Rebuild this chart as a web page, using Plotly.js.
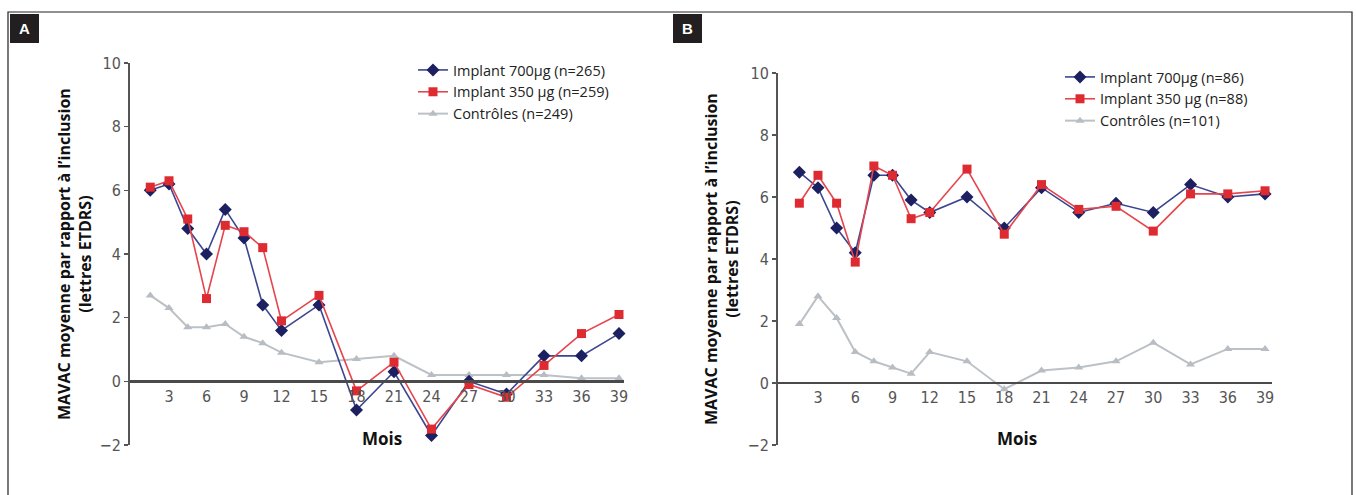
<!DOCTYPE html>
<html>
<head>
<meta charset="utf-8">
<script src="https://cdn.plot.ly/plotly-3.0.1.min.js"></script>
<style>html,body{margin:0;padding:0;background:#fff;}#chart{width:1356px;height:495px;}</style>
</head>
<body>
<div id="chart"></div>
<script>
// Months of follow-up
const months = [1.5, 3, 4.5, 6, 7.5, 9, 10.5, 12, 15, 18, 21, 24, 27, 30, 33, 36, 39];
const xTicks = [3, 6, 9, 12, 15, 18, 21, 24, 27, 30, 33, 36, 39];

// Panel A
const a700 = [6.0, 6.2, 4.8, 4.0, 5.4, 4.5, 2.4, 1.6, 2.4, -0.9, 0.3, -1.7, 0.0, -0.4, 0.8, 0.8, 1.5];
const a350 = [6.1, 6.3, 5.1, 2.6, 4.9, 4.7, 4.2, 1.9, 2.7, -0.3, 0.6, -1.5, -0.1, -0.5, 0.5, 1.5, 2.1];
const aCtrl = [2.7, 2.3, 1.7, 1.7, 1.8, 1.4, 1.2, 0.9, 0.6, 0.7, 0.8, 0.2, 0.2, 0.2, 0.2, 0.1, 0.1];
const aNames = ["Implant 700µg (n=265)", "Implant 350 µg (n=259)", "Contrôles (n=249)"];

// Panel B
const b700 = [6.8, 6.3, 5.0, 4.2, 6.7, 6.7, 5.9, 5.5, 6.0, 5.0, 6.3, 5.5, 5.8, 5.5, 6.4, 6.0, 6.1];
const b350 = [5.8, 6.7, 5.8, 3.9, 7.0, 6.7, 5.3, 5.5, 6.9, 4.8, 6.4, 5.6, 5.7, 4.9, 6.1, 6.1, 6.2];
const bCtrl = [1.9, 2.8, 2.1, 1.0, 0.7, 0.5, 0.3, 1.0, 0.7, -0.2, 0.4, 0.5, 0.7, 1.3, 0.6, 1.1, 1.1];
const bNames = ["Implant 700µg (n=86)", "Implant 350 µg (n=88)", "Contrôles (n=101)"];

const panelLabels = ["A", "B"];
const yTitle = "MAVAC moyenne par rapport à l’inclusion<br>(lettres ETDRS)";
const xTitle = "Mois";

const W = 1356, H = 495;
const px = v => v / W;
const py = v => 1 - v / H;

const styles = [
  {line: {color: '#3b4690', width: 1.6}, marker: {symbol: 'diamond', size: 10, color: '#1d2060'}},
  {line: {color: '#e5454c', width: 1.6}, marker: {symbol: 'square', size: 9, color: '#de2a31'}},
  {line: {color: '#bcc1c6', width: 2}, marker: {symbol: 'triangle-up', size: 8, color: '#b8bdc3'}}
];

function mk(y, name, i, xa, ya, leg) {
  return Object.assign({
    x: months, y: y, name: name, type: 'scatter', mode: 'lines+markers',
    xaxis: xa, yaxis: ya, legend: leg, cliponaxis: false, legendrank: i
  }, JSON.parse(JSON.stringify(styles[i])));
}

// Controls drawn first so the implant series overlay them; legend order kept by legendrank
const traces = [
  mk(aCtrl, aNames[2], 2, 'x', 'y', 'legend'),
  mk(a700, aNames[0], 0, 'x', 'y', 'legend'),
  mk(a350, aNames[1], 1, 'x', 'y', 'legend'),
  mk(bCtrl, bNames[2], 2, 'x2', 'y2', 'legend2'),
  mk(b700, bNames[0], 0, 'x2', 'y2', 'legend2'),
  mk(b350, bNames[1], 1, 'x2', 'y2', 'legend2')
];

const tickFont = {family: 'Liberation Sans Narrow, DejaVu Sans Condensed, Arial Narrow, sans-serif', size: 16, color: '#555'};

// Panel geometry
const aDom = [px(130), px(624)], aYDom = [py(445), py(63)];
const bDom = [px(778), px(1272)], bYDom = [py(445), py(73)];
const zeroPos = d => d[0] + (2 / 12) * (d[1] - d[0]);

function xax(dom, range, yd) {
  return {
    domain: dom, range: range, anchor: 'free', position: zeroPos(yd),
    showline: true, linecolor: '#4a4a4a', linewidth: 2.2, zeroline: false, showgrid: false,
    tickmode: 'array', tickvals: xTicks, ticks: '', tickfont: tickFont, fixedrange: true
  };
}
function yax(dom, anchorX) {
  return {
    domain: dom, range: [-2, 10], anchor: anchorX, tickmode: 'linear', tick0: 0, dtick: 2,
    showline: true, linecolor: '#555', linewidth: 2, ticks: 'outside', ticklen: 4,
    tickcolor: '#555', tickwidth: 1.5, zeroline: false, showgrid: false, tickfont: tickFont,
    fixedrange: true
  };
}

const titleFont = {family: 'Open Sans, Liberation Sans, sans-serif', size: 16, color: '#111'};
const legFont = {family: 'Open Sans, sans-serif', size: 14.5, color: '#222'};

function ann(text, x, y, font, extra) {
  return Object.assign({text: text, xref: 'paper', yref: 'paper', x: px(x), y: py(y),
    xanchor: 'center', yanchor: 'middle', showarrow: false, font: font}, extra || {});
}

const boxFont = {family: 'Liberation Sans, Arial, sans-serif', size: 15, color: '#fff'};

const layout = {
  width: W, height: H, margin: {l: 0, r: 0, t: 0, b: 0},
  paper_bgcolor: '#fff', plot_bgcolor: 'rgba(0,0,0,0)',
  showlegend: true,
  xaxis: xax(aDom, [-0.12, 39.4], aYDom),
  yaxis: yax(aYDom, 'x'),
  xaxis2: xax(bDom, [-0.22, 39.56], bYDom),
  yaxis2: yax(bYDom, 'x2'),
  legend: {
    x: px(413), y: py(54), xanchor: 'left', yanchor: 'top', bgcolor: 'rgba(0,0,0,0)',
    font: legFont, tracegroupgap: 0, itemclick: false
  },
  legend2: {
    x: px(1060), y: py(61), xanchor: 'left', yanchor: 'top', bgcolor: 'rgba(0,0,0,0)',
    font: legFont, tracegroupgap: 0, itemclick: false
  },
  shapes: [
    {type: 'rect', xref: 'paper', yref: 'paper', x0: px(8), x1: px(1352), y0: -0.2, y1: py(12),
     line: {color: '#222', width: 1.2}, fillcolor: 'rgba(0,0,0,0)', layer: 'below'},
    {type: 'rect', xref: 'paper', yref: 'paper', x0: px(10), x1: px(39), y0: py(43), y1: py(14),
     line: {width: 0}, fillcolor: '#231f20'},
    {type: 'rect', xref: 'paper', yref: 'paper', x0: px(673), x1: px(702), y0: py(43), y1: py(14),
     line: {width: 0}, fillcolor: '#231f20'}
  ],
  annotations: [
    ann('<b>' + panelLabels[0] + '</b>', 24.5, 28.5, boxFont),
    ann('<b>' + panelLabels[1] + '</b>', 687.5, 28.5, boxFont),
    ann('<b>' + yTitle + '</b>', 74, 254, titleFont, {textangle: -90}),
    ann('<b>' + yTitle + '</b>', 721, 259, titleFont, {textangle: -90}),
    ann('<b>' + xTitle + '</b>', 382, 438, {family: 'Open Sans, sans-serif', size: 17, color: '#111'}),
    ann('<b>' + xTitle + '</b>', 1017, 438, {family: 'Open Sans, sans-serif', size: 17, color: '#111'})
  ]
};

Plotly.newPlot('chart', traces, layout, {staticPlot: true, displayModeBar: false});
</script>
</body>
</html>
